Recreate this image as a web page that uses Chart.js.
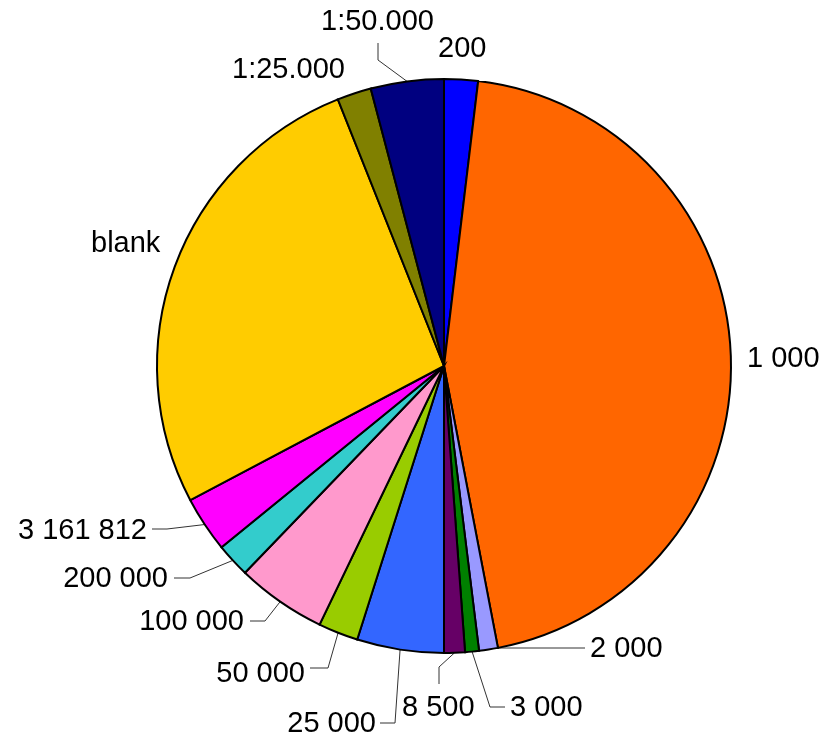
<!DOCTYPE html>
<html>
<head>
<meta charset="utf-8">
<script src="https://cdn.jsdelivr.net/npm/chart.js@4/dist/chart.umd.min.js"></script>
<style>
  html, body { margin: 0; padding: 0; background: #fff; }
  canvas { display: block; }
</style>
</head>
<body>
<canvas id="pie" width="821" height="736"></canvas>
<script>
// スケール別の割合（%）
const categories = ['200', '1 000', '2 000', '3 000', '8 500', '25 000', '50 000',
    '100 000', '200 000', '3 161 812', 'blank', '1:25.000', '1:50.000'];
const shares = [1.9, 45.1, 1.06, 0.78, 1.17, 4.89, 2.25, 5.06, 1.92, 3.14, 26.72, 1.92, 4.11];
const sliceColors = ['#0000ff', '#ff6600', '#9999ff', '#008000', '#660066', '#3366ff', '#99cc00',
    '#ff99cc', '#33cccc', '#ff00ff', '#ffcc00', '#808000', '#000080'];

// ラベル配置: テキスト位置(x, ベースライン), 揃え, 引き出し線の折れ点
const labelLayout = [
    { x: 438, y: 57, align: 'left' },
    { x: 747, y: 367, align: 'left' },
    { x: 590, y: 657, align: 'left', leader: [[585, 648]], flat: true },
    { x: 510, y: 716, align: 'left', leader: [[490, 707], [505, 707]] },
    { x: 402, y: 716, align: 'left', leader: [[439, 667], [439, 684]] },
    { x: 376, y: 732, align: 'right', leader: [[395, 723], [380, 723]] },
    { x: 305, y: 682, align: 'right', leader: [[328, 668], [310, 668]] },
    { x: 244, y: 630, align: 'right', leader: [[265, 621], [250, 621]] },
    { x: 168, y: 587, align: 'right', leader: [[190, 578], [174, 578]] },
    { x: 147, y: 539, align: 'right', leader: [[167, 529], [152, 529]] },
    { x: 91, y: 252, align: 'left' },
    { x: 232, y: 78, align: 'left' },
    { x: 321, y: 30, align: 'left', leader: [[378, 60], [378, 43]] }
];

function anchorOf(arc) {
    const p = arc.getProps(['x', 'y', 'startAngle', 'endAngle', 'outerRadius'], true);
    const mid = (p.startAngle + p.endAngle) / 2;
    return { x: p.x + Math.cos(mid) * p.outerRadius, y: p.y + Math.sin(mid) * p.outerRadius };
}

// 引き出し線（円の下に描く）
const leaderPlugin = {
    id: 'leaders',
    beforeDatasetsDraw(chart) {
        const ctx = chart.ctx;
        const arcs = chart.getDatasetMeta(0).data;
        ctx.save();
        ctx.strokeStyle = '#333';
        ctx.lineWidth = 1;
        labelLayout.forEach((l, i) => {
            if (!l.leader) return;
            const a = anchorOf(arcs[i]);
            ctx.beginPath();
            if (l.flat) ctx.moveTo(a.x, l.leader[0][1]);
            else ctx.moveTo(a.x, a.y);
            l.leader.forEach(pt => ctx.lineTo(pt[0], pt[1]));
            ctx.stroke();
        });
        ctx.restore();
    }
};

// ラベル文字
const labelPlugin = {
    id: 'sliceLabels',
    afterDraw(chart) {
        const ctx = chart.ctx;
        ctx.save();
        ctx.fillStyle = '#000';
        ctx.font = '29px "Liberation Sans", Arial, sans-serif';
        ctx.textBaseline = 'alphabetic';
        labelLayout.forEach((l, i) => {
            ctx.textAlign = l.align;
            ctx.fillText(categories[i], l.x, l.y);
        });
        ctx.restore();
    }
};

new Chart(document.getElementById('pie'), {
    type: 'pie',
    data: {
        labels: categories,
        datasets: [{
            data: shares,
            backgroundColor: sliceColors,
            borderColor: '#000',
            borderWidth: 2,
            borderJoinStyle: 'miter'
        }]
    },
    options: {
        responsive: false,
        animation: false,
        layout: { padding: { top: 78, bottom: 82, left: 156, right: 89 } },
        plugins: {
            legend: { display: false },
            tooltip: { enabled: false }
        }
    },
    plugins: [leaderPlugin, labelPlugin]
});
</script>
</body>
</html>
